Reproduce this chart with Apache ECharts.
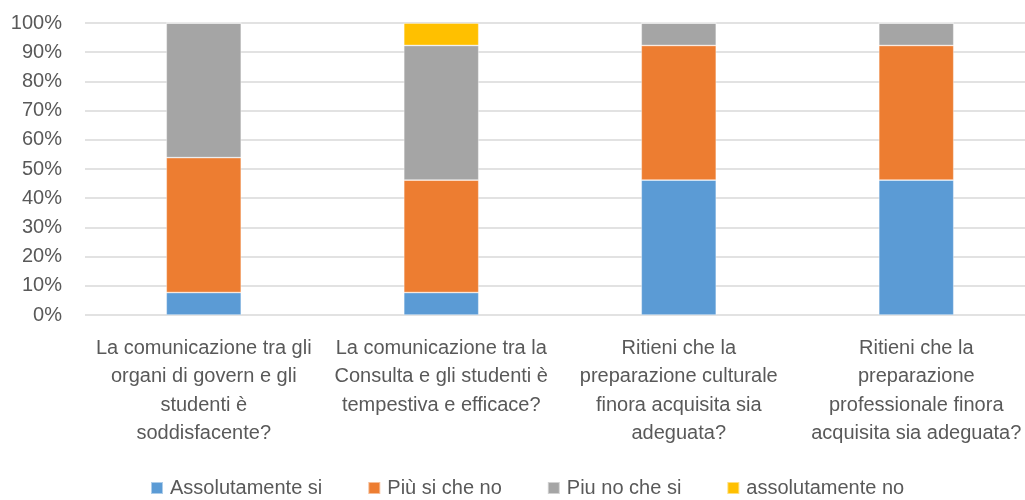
<!DOCTYPE html>
<html>
<head>
<meta charset="utf-8">
<script src="https://cdn.jsdelivr.net/npm/echarts@6/dist/echarts.min.js"></script>
<style>
  html, body { margin: 0; padding: 0; background: #fff; }
  #chart { width: 1025px; height: 500px; }
</style>
</head>
<body>
<div id="chart"></div>
<script>
// domande (categorie), con a capo come nell'originale
const categories = [
  'La comunicazione tra gli\norgani di govern e gli\nstudenti è\nsoddisfacente?',
  'La comunicazione tra la\nConsulta e gli studenti è\ntempestiva e efficace?',
  'Ritieni che la\npreparazione culturale\nfinora acquisita sia\nadeguata?',
  'Ritieni che la\npreparazione\nprofessionale finora\nacquisita sia adeguata?'
]

// percentuali per risposta
const assolutamenteSi = [7.7, 7.7, 46.2, 46.2]
const piuSiCheNo = [46.2, 38.5, 46.1, 46.1]
const piuNoCheSi = [46.1, 46.1, 7.7, 7.7]
const assolutamenteNo = [0, 7.7, 0, 0]

const yTicks = [0, 10, 20, 30, 40, 50, 60, 70, 80, 90, 100]

const seriesDefs = [
  { name: 'Assolutamente si', data: assolutamenteSi, color: '#5B9BD5' },
  { name: 'Più si che no', data: piuSiCheNo, color: '#ED7D31' },
  { name: 'Piu no che si', data: piuNoCheSi, color: '#A5A5A5' },
  { name: 'assolutamente no', data: assolutamenteNo, color: '#FFC000' }
]

const font = '"Liberation Sans", Arial, sans-serif'
const chart = echarts.init(document.getElementById('chart'))

chart.setOption({
  animation: false,
  textStyle: { fontFamily: font },
  grid: { left: 85, right: -10, top: 23, height: 292, outerBoundsMode: 'none', containLabel: false },
  legend: {
    left: 145,
    top: 473,
    itemWidth: 12,
    itemHeight: 12,
    itemGap: 45,
    icon: 'rect',
    textStyle: { color: '#595959', fontSize: 20, fontFamily: font, padding: [0, 0, 0, 2] },
    data: seriesDefs.map(s => s.name)
  },
  xAxis: {
    type: 'category',
    data: categories,
    axisLine: { show: false },
    axisTick: { show: false },
    axisLabel: {
      interval: 0,
      color: '#595959',
      fontSize: 20,
      lineHeight: 28.5,
      margin: 19,
      fontFamily: font
    }
  },
  yAxis: {
    type: 'value',
    min: yTicks[0],
    max: yTicks[yTicks.length - 1],
    interval: 10,
    axisLine: { show: false },
    axisTick: { show: false },
    splitLine: { lineStyle: { color: '#D9D9D9', width: 1.5 } },
    axisLabel: {
      color: '#595959',
      fontSize: 20,
      margin: 23,
      fontFamily: font,
      formatter: '{value}%'
    }
  },
  series: seriesDefs.map(s => ({
    name: s.name,
    type: 'bar',
    stack: 'totale',
    barWidth: 75,
    data: s.data,
    itemStyle: { color: s.color, borderColor: 'rgba(255,255,255,0.5)', borderWidth: 0.75 }
  }))
})
</script>
</body>
</html>
